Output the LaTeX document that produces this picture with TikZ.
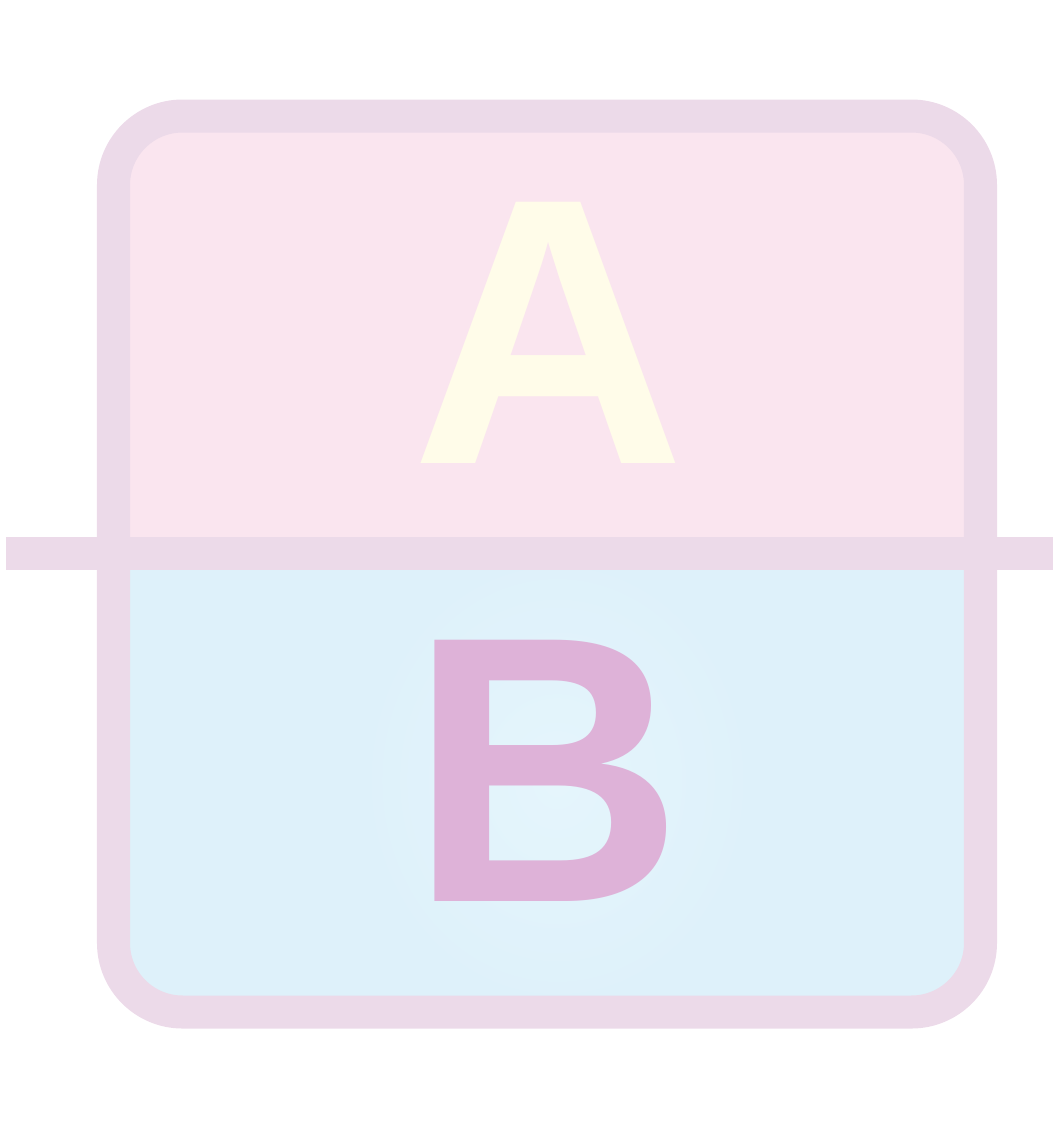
\documentclass[tikz,border=0pt]{standalone}
\usepackage{fontspec}
\setmainfont{Liberation Sans}
\usetikzlibrary{positioning}
\definecolor{Frame}{HTML}{ECDAE9}
\definecolor{TopFill}{HTML}{FAE5EF}
\definecolor{BottomFill}{HTML}{DEF1FA}
\definecolor{Glow}{HTML}{E5F5FC}
\definecolor{LetterA}{HTML}{FFFCE9}
\definecolor{LetterB}{HTML}{DEB2D8}
\tikzset{
  frame/.style={draw=Frame,line width=.33cm,rounded corners=.69cm},
  divider/.style={draw=Frame,line width=.33cm},
  letter/.style={font=\fontsize{108}{108}\selectfont\bfseries,inner sep=0pt,anchor=base}
}

\begin{document}
\begin{tikzpicture}[x=.01cm,y=-.01cm]
  \useasboundingbox (0,0) rectangle (1060,1129);
  \fill[TopFill,rounded corners=.69cm] (113.5,116) rectangle (980.5,1012);
  \begin{scope}
    \clip[rounded corners=.69cm] (113.5,116) rectangle (980.5,1012);
    \clip (100,553.5) rectangle (1000,1020);
    \fill[BottomFill] (100,553.5) rectangle (1000,1020);
    \shade[inner color=Glow,outer color=BottomFill] (557,780) ellipse[x radius=2cm,y radius=2.3cm];
  \end{scope}
  \draw[frame] (113.5,116) rectangle (980.5,1012);
  \draw[divider] (6,553.5) -- (1053,553.5);
  \node[letter,text=LetterA] (a) at (549,463) {A};
  \node[letter,text=LetterB] (b) at (547,901) {B};
\end{tikzpicture}
\end{document}
